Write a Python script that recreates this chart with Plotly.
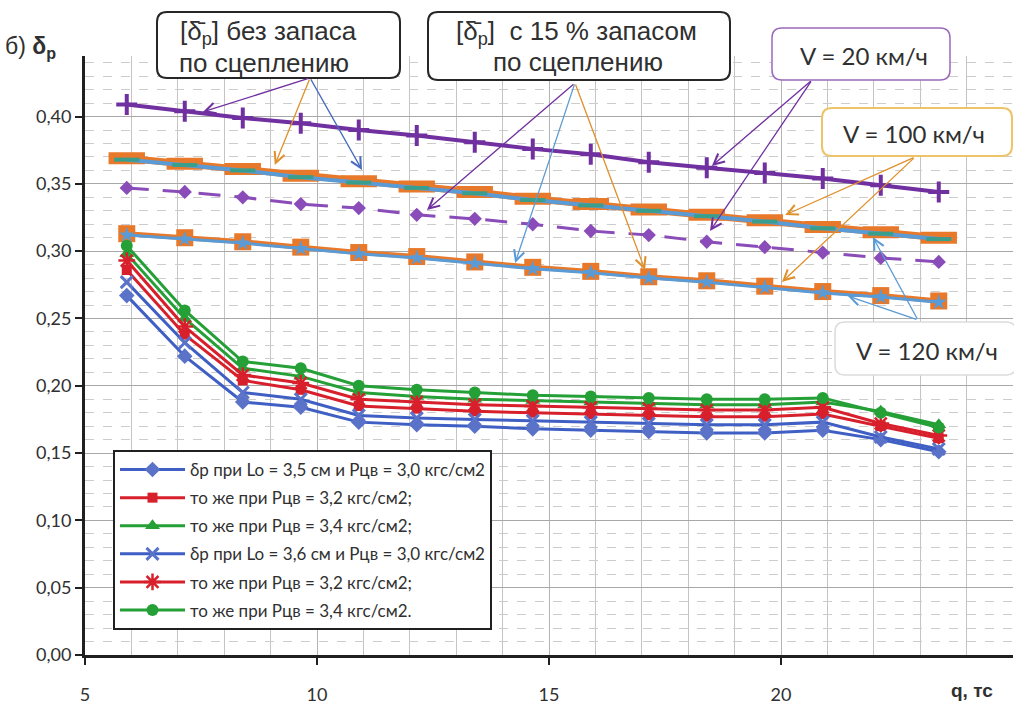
import plotly.graph_objects as go

# Axle load q, tf
q = [5.9, 7.15, 8.4, 9.65, 10.9, 12.15, 13.4, 14.65, 15.9, 17.15, 18.4, 19.65, 20.9, 22.15, 23.4]

# Allowable braking coefficient [δр] by speed, without margin and with 15 % adhesion margin
v20 = [0.409, 0.404, 0.399, 0.395, 0.390, 0.386, 0.381, 0.376, 0.372, 0.366, 0.362, 0.358, 0.354, 0.349, 0.344]
v20_m15 = [0.347, 0.344, 0.340, 0.335, 0.332, 0.327, 0.324, 0.320, 0.315, 0.312, 0.307, 0.303, 0.299, 0.295, 0.292]
v100 = [0.369, 0.365, 0.361, 0.356, 0.352, 0.348, 0.344, 0.339, 0.335, 0.331, 0.327, 0.323, 0.318, 0.314, 0.310]
v120 = [0.368, 0.364, 0.360, 0.355, 0.351, 0.347, 0.343, 0.338, 0.334, 0.330, 0.326, 0.322, 0.317, 0.313, 0.309]
v100_m15 = [0.313, 0.310, 0.307, 0.303, 0.299, 0.296, 0.292, 0.288, 0.285, 0.281, 0.278, 0.274, 0.270, 0.267, 0.263]
v120_m15 = [0.312, 0.309, 0.306, 0.302, 0.298, 0.295, 0.291, 0.287, 0.284, 0.280, 0.277, 0.273, 0.269, 0.266, 0.262]

# Actual braking coefficient δр for pad length Lo and cylinder pressure Рцв
d35_30 = [0.267, 0.222, 0.188, 0.184, 0.173, 0.171, 0.170, 0.168, 0.167, 0.166, 0.165, 0.165, 0.167, 0.160, 0.151]
d35_32 = [0.286, 0.238, 0.204, 0.197, 0.185, 0.183, 0.181, 0.180, 0.179, 0.178, 0.177, 0.177, 0.179, 0.170, 0.161]
d35_34 = [0.298, 0.250, 0.213, 0.207, 0.195, 0.192, 0.190, 0.189, 0.188, 0.187, 0.186, 0.186, 0.188, 0.181, 0.171]
d36_30 = [0.277, 0.232, 0.195, 0.190, 0.178, 0.176, 0.175, 0.174, 0.173, 0.172, 0.171, 0.171, 0.173, 0.162, 0.153]
d36_32 = [0.293, 0.244, 0.208, 0.202, 0.190, 0.188, 0.186, 0.185, 0.184, 0.183, 0.182, 0.182, 0.184, 0.172, 0.163]
d36_34 = [0.304, 0.256, 0.218, 0.213, 0.200, 0.197, 0.195, 0.193, 0.192, 0.191, 0.190, 0.190, 0.191, 0.180, 0.169]

legend_names = [
    "δр при Lo = 3,5 см и Рцв = 3,0 кгс/см2",
    "то же при Рцв = 3,2 кгс/см2;",
    "то же при Рцв = 3,4 кгс/см2;",
    "δр при Lo = 3,6 см и Рцв = 3,0 кгс/см2",
    "то же при Рцв = 3,2 кгс/см2;",
    "то же при Рцв = 3,4 кгс/см2.",
]

x_ticks = [5, 10, 15, 20]
x_tick_text = ["5", "10", "15", "20"]
y_ticks = [0.00, 0.05, 0.10, 0.15, 0.20, 0.25, 0.30, 0.35, 0.40]
y_tick_text = ["0,00", "0,05", "0,10", "0,15", "0,20", "0,25", "0,30", "0,35", "0,40"]

PURPLE = "#7030a0"
PURPLE_L = "#8a4cb8"
ORANGE = "#e8782a"
ARROW_OR = "#e0902a"
LBLUE = "#5b9bd5"
TEAL = "#3a9e8c"
BLUE = "#3f5fc4"
BLUE_M = "#5a72c8"
RED = "#d7202c"
GREEN = "#24a036"

fig = go.Figure()

# --- allowable limits (no legend entries) ---
fig.add_trace(go.Scatter(x=q, y=v20, mode="lines+markers", showlegend=False,
                         line=dict(color=PURPLE, width=4),
                         marker=dict(symbol="cross-thin", size=15, line=dict(color=PURPLE, width=4))))
fig.add_trace(go.Scatter(x=q, y=v20_m15, mode="lines+markers", showlegend=False,
                         line=dict(color=PURPLE_L, width=3, dash="22px,14px"),
                         marker=dict(symbol="diamond", size=11, color=PURPLE_L)))
fig.add_trace(go.Scatter(x=q, y=v100, mode="lines+markers", showlegend=False,
                         line=dict(color=ORANGE, width=7),
                         marker=dict(symbol="line-ew", size=26, line=dict(color=ORANGE, width=12))))
fig.add_trace(go.Scatter(x=q, y=v120, mode="lines+markers", showlegend=False,
                         line=dict(color=LBLUE, width=4),
                         marker=dict(symbol="line-ew", size=18, line=dict(color=TEAL, width=4))))
fig.add_trace(go.Scatter(x=q, y=v100_m15, mode="lines+markers", showlegend=False,
                         line=dict(color=ORANGE, width=5),
                         marker=dict(symbol="square", size=17, color=ORANGE)))
fig.add_trace(go.Scatter(x=q, y=v120_m15, mode="lines+markers", showlegend=False,
                         line=dict(color=LBLUE, width=3),
                         marker=dict(symbol="star", size=12, color=LBLUE)))

# --- actual braking coefficients ---
series = [
    (d35_30, BLUE, dict(symbol="diamond", size=12, color=BLUE_M)),
    (d35_32, RED, dict(symbol="square", size=10, color=RED)),
    (d35_34, GREEN, dict(symbol="triangle-up", size=13, color=GREEN)),
    (d36_30, BLUE, dict(symbol="x-thin", size=12, line=dict(color=BLUE_M, width=3))),
    (d36_32, RED, dict(symbol="asterisk", size=14, line=dict(color=RED, width=2.5))),
    (d36_34, GREEN, dict(symbol="circle", size=12, color=GREEN)),
]
for i, ((vals, col, mk), name) in enumerate(zip(series, legend_names)):
    fig.add_trace(go.Scatter(x=q, y=vals, mode="lines+markers", name=name, legendgroup=f"g{i}",
                             line=dict(color=col, width=3), marker=mk))

# Plot area geometry (pixels) used to place boxes in paper units
L, R, T, B, W, H = 85, 1, 56, 51, 1014, 706
PW, PH = W - L - R, H - T - B


def px(xp):
    return (xp - L) / PW


def py(yp):
    return (H - B - yp) / PH


def rounded_path(x0, x1, y0, y1, r):
    # pixel box -> paper path with rounded corners
    rx, ry = r / PW, r / PH
    a, b = px(x0), px(x1)
    top, bot = py(y0), py(y1)
    return (f"M {a + rx},{top} L {b - rx},{top} Q {b},{top} {b},{top - ry} "
            f"L {b},{bot + ry} Q {b},{bot} {b - rx},{bot} L {a + rx},{bot} "
            f"Q {a},{bot} {a},{bot + ry} L {a},{top - ry} Q {a},{top} {a + rx},{top} Z")


boxes = [
    # (x0, x1, y0, y1, border colour, border width)
    (157, 400, 12, 78, "#262626", 2),
    (428, 730, 12, 80, "#262626", 2),
    (772, 950, 28, 80, "#9a6ab8", 1.5),
    (822, 1012, 108, 156, "#eec46a", 2),
    (835, 1016, 322, 375, "#dcdcdc", 1.5),
]
shapes = []
for x0, x1, y0, y1, col, w in boxes:
    shapes.append(dict(type="path", xref="paper", yref="paper", layer="above",
                       path=rounded_path(x0, x1, y0, y1, 10),
                       fillcolor="white", line=dict(color=col, width=w)))

annotations = []
box_texts = [
    ("[δ̄<sub>р</sub>] без запаса", 268, 33, 26, "Liberation Sans"),
    ("по сцеплению", 264, 63, 26, "Liberation Sans"),
    ("[δ̄<sub>р</sub>]  с 15 % запасом", 576, 33, 26, "Liberation Sans"),
    ("по сцеплению", 578, 62, 26, "Liberation Sans"),
    ("V = 20 км/ч", 864, 55, 24, "Lato"),
    ("V = 100 км/ч", 914, 133, 24, "Lato"),
    ("V = 120 км/ч", 927, 350, 24, "Lato"),
]
for txt, cx, cy, fs, fam in box_texts:
    annotations.append(dict(text=txt, x=px(cx), y=py(cy), xref="paper", yref="paper",
                            showarrow=False, xanchor="center", yanchor="middle",
                            font=dict(size=fs, color="#303030", family=fam)))

# Leader arrows: (tail x, tail y) -> (head x, head y) in data units
arrows = [
    (9.85, 0.4287, 7.54, 0.4034, PURPLE),
    (9.85, 0.4287, 9.09, 0.3640, ARROW_OR),
    (9.85, 0.4287, 10.97, 0.3603, "#4a6cc0"),
    (15.56, 0.4250, 12.37, 0.3306, PURPLE),
    (15.56, 0.4250, 14.27, 0.2912, LBLUE),
    (15.56, 0.4250, 17.07, 0.2860, ARROW_OR),
    (20.67, 0.4272, 18.51, 0.3633, PURPLE),
    (20.67, 0.4272, 18.47, 0.3150, PURPLE),
    (22.89, 0.3700, 20.09, 0.3269, ARROW_OR),
    (22.89, 0.3700, 20.02, 0.2771, ARROW_OR),
    (22.95, 0.2489, 21.98, 0.3105, LBLUE),
    (22.95, 0.2489, 21.44, 0.2667, LBLUE),
]
for tx, ty, hx, hy, col in arrows:
    annotations.append(dict(x=hx, y=hy, ax=tx, ay=ty, xref="x", yref="y", axref="x", ayref="y",
                            text="", showarrow=True, arrowhead=5, arrowsize=1.6,
                            arrowwidth=1.3, arrowcolor=col))

annotations.append(dict(text="б) <b>δ<sub>р</sub></b>", x=px(3), y=py(47), xref="paper", yref="paper",
                        xanchor="left", yanchor="middle", showarrow=False,
                        font=dict(size=23, color="#303030", family="Liberation Sans")))
annotations.append(dict(text="<b>q, тс</b>", x=px(972), y=py(690), xref="paper", yref="paper",
                        xanchor="center", yanchor="middle", showarrow=False,
                        font=dict(size=19, color="#303030", family="Liberation Sans")))

fig.update_layout(
    width=W, height=H,
    margin=dict(l=L, r=R, t=T, b=B),
    paper_bgcolor="white", plot_bgcolor="white",
    shapes=shapes, annotations=annotations,
    legend=dict(x=px(113), y=py(450), xanchor="left", yanchor="top",
                bgcolor="white", bordercolor="#202020", borderwidth=2,
                font=dict(size=17, color="#303030", family="Lato"),
                itemwidth=65, tracegroupgap=3),
    xaxis=dict(range=[5, 25], tickvals=x_ticks, ticktext=x_tick_text,
               ticks="outside", ticklen=7, tickwidth=2, tickcolor="#202020",
               ticklabelstandoff=14,
               showline=True, linecolor="#202020", linewidth=3,
               showgrid=True, gridcolor="#b4b4b4", gridwidth=1,
               minor=dict(tickvals=list(range(6, 26)), showgrid=True, gridcolor="#c4c4c4", gridwidth=1),
               tickfont=dict(size=18, color="#303030", family="Lato"), zeroline=False),
    yaxis=dict(range=[0, 0.445], tickvals=y_ticks, ticktext=y_tick_text,
               ticks="outside", ticklen=7, tickwidth=2, tickcolor="#202020",
               showline=True, linecolor="#202020", linewidth=3,
               showgrid=True, gridcolor="#a8a8a8", gridwidth=1,
               minor=dict(tickvals=[i / 100 for i in range(1, 45)], showgrid=True,
                          gridcolor="#cccccc", griddash="dash", gridwidth=1),
               tickfont=dict(size=18, color="#303030", family="Lato"), zeroline=False),
)

fig.write_html("out.html")
